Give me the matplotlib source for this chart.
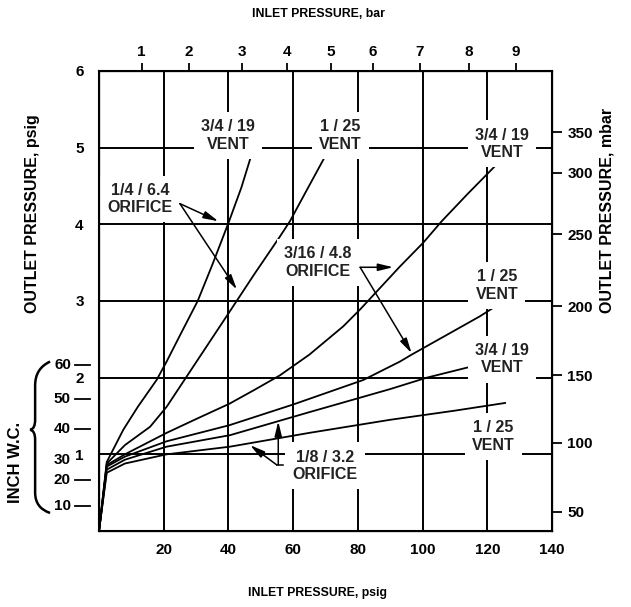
import matplotlib.pyplot as plt
from matplotlib.path import Path
from matplotlib.patches import PathPatch

plt.rcParams['font.family'] = ['Liberation Sans', 'DejaVu Sans']
plt.rcParams['font.weight'] = 'bold'

# curves: inlet psig -> outlet psig
a_x = [0, 2.4, 7.5, 12, 17.8, 20.9, 25, 30.5, 35, 40.2, 44, 47]
a_y = [0, 0.90, 1.32, 1.62, 1.97, 2.21, 2.55, 3.0, 3.47, 4.04, 4.48, 4.89]

b_x = [0, 2.4, 8, 15.8, 20.9, 30, 40.2, 48, 55.9, 59, 64, 69.8]
b_y = [0, 0.88, 1.12, 1.36, 1.62, 2.2, 2.85, 3.35, 3.84, 4.04, 4.43, 4.88]

c_x = [0, 2.4, 8, 20.9, 30, 40.3, 48, 55.9, 65, 75.5, 80.7, 93, 100.2, 105.9, 114, 122.4]
c_y = [0, 0.86, 1.0, 1.28, 1.46, 1.66, 1.84, 2.03, 2.30, 2.67, 2.89, 3.45, 3.76, 4.04, 4.40, 4.76]

d_x = [0, 2.4, 8, 20.9, 40.3, 60, 81.7, 93, 96.6, 108, 117.7, 121.8]
d_y = [0, 0.84, 0.97, 1.17, 1.38, 1.65, 1.97, 2.21, 2.30, 2.57, 2.80, 2.91]

e_x = [0, 2.4, 8, 20.9, 40.5, 65, 89.9, 101.3, 114.6]
e_y = [0, 0.80, 0.93, 1.10, 1.25, 1.55, 1.85, 2.0, 2.14]

f_x = [0, 2.4, 8, 20.9, 40.5, 65, 89.9, 110, 125.5]
f_y = [0, 0.76, 0.88, 1.0, 1.10, 1.28, 1.45, 1.57, 1.67]

# axes ticks
psig_in_ticks = [20, 40, 60, 80, 100, 120, 140]
psig_out_ticks = [1, 2, 3, 4, 5, 6]
bar_labels = ['1', '2', '3', '4', '5', '6', '7', '8', '9']
bar_pos = [13.2, 27.8, 44.1, 58.0, 71.6, 84.6, 99.2, 114.3, 128.8]
mbar_labels = ['50', '100', '150', '200', '250', '300', '350']
mbar_pos = [0.25, 1.15, 2.03, 2.93, 3.87, 4.67, 5.20]
wc_labels = ['60', '50', '40', '30', '20', '10']
wc_pos = [2.17, 1.72, 1.33, 0.93, 0.67, 0.33]
wc_dash = [True, True, True, False, True, True]

grid_x = [20, 40, 60, 80, 100, 120]
grid_y = [1, 2, 3, 4, 5]

# curve labels: text, x, y
labels = [
    ('3/4 / 19\nVENT', 39.9, 5.16),
    ('1 / 25\nVENT', 74.5, 5.16),
    ('3/4 / 19\nVENT', 124.5, 5.05),
    ('1 / 25\nVENT', 123.0, 3.20),
    ('3/4 / 19\nVENT', 124.5, 2.24),
    ('1 / 25\nVENT', 121.8, 1.23),
    ('1/4 / 6.4\nORIFICE', 12.7, 4.33),
    ('3/16 / 4.8\nORIFICE', 67.7, 3.50),
    ('1/8 / 3.2\nORIFICE', 69.8, 0.85),
]

# arrows: (start, tip)
arrows = [
    ((25.0, 4.27), (36.9, 4.04)),
    ((25.0, 4.27), (42.6, 3.15)),
    ((80.7, 3.44), (90.9, 3.44)),
    ((80.7, 3.44), (96.6, 2.32)),
    ((55.4, 0.863), (55.4, 1.43)),
    ((54.9, 0.863), (46.7, 1.12)),
]

fig = plt.figure(figsize=(6.31, 6.07), dpi=100)
ax = fig.add_axes([99/631, 76/607, 453/631, 460/607])
ax.set_xlim(0, 140)
ax.set_ylim(0, 6)

for v in grid_x:
    ax.axvline(v, color='black', lw=1.4, zorder=1)
for h in grid_y:
    ax.axhline(h, color='black', lw=1.4, zorder=1)

for xs, ys in [(a_x, a_y), (b_x, b_y), (c_x, c_y), (d_x, d_y), (e_x, e_y), (f_x, f_y)]:
    ax.plot(xs, ys, color='black', lw=1.3, zorder=2, solid_joinstyle='round')

for s, x, y in labels:
    ax.text(x, y, s, ha='center', va='center', fontsize=11.5, fontweight='bold',
            linespacing=1.2, color='#222222', zorder=5,
            bbox=dict(boxstyle='square,pad=0.45', fc='white', ec='none'))

for start, tip in arrows:
    ax.annotate('', xy=tip, xytext=start, zorder=6,
                arrowprops=dict(arrowstyle='-|>,head_length=0.9,head_width=0.22',
                                color='black', lw=1.1, shrinkA=0, shrinkB=0))
ax.plot([54.9, 56.9], [0.863, 0.863], color='black', lw=1.1, zorder=6)

for sp in ax.spines.values():
    sp.set_linewidth(1.5)

ax.set_xticks(psig_in_ticks)
ax.set_yticks(psig_out_ticks)
ax.tick_params(axis='both', length=0, labelsize=11)
ax.tick_params(axis='x', pad=9)
ax.tick_params(axis='y', pad=11)

ax_top = ax.twiny()
ax_top.set_xlim(ax.get_xlim())
ax_top.set_xticks(bar_pos, bar_labels)
ax_top.tick_params(direction='out', length=6, width=1.3, labelsize=11, pad=3)

ax_r = ax.twinx()
ax_r.set_ylim(ax.get_ylim())
ax_r.set_yticks(mbar_pos, mbar_labels)
ax_r.tick_params(direction='out', length=7, width=1.3, labelsize=11, pad=4)

# inch w.c. scale on the left, outside the frame
trans = ax.get_yaxis_transform()
for lab, pos, dash in zip(wc_labels, wc_pos, wc_dash):
    if dash:
        ax.plot([-0.053, -0.02], [pos, pos], transform=trans, clip_on=False,
                color='black', lw=1.3)
    ax.text(-0.062, pos, lab, transform=trans, ha='right', va='center', fontsize=11)

brace = Path([(-0.108, 2.21), (-0.141, 2.12), (-0.141, 1.90),
              (-0.141, 1.45),
              (-0.141, 1.33), (-0.152, 1.32),
              (-0.141, 1.31), (-0.141, 1.19),
              (-0.141, 0.50),
              (-0.141, 0.30), (-0.108, 0.235)],
             [Path.MOVETO, Path.CURVE3, Path.CURVE3,
              Path.LINETO,
              Path.CURVE3, Path.CURVE3,
              Path.CURVE3, Path.CURVE3,
              Path.LINETO,
              Path.CURVE3, Path.CURVE3])
ax.add_patch(PathPatch(brace, transform=trans, fc='none', ec='black', lw=1.8, clip_on=False))
ax.text(-0.185, 0.90, 'INCH W.C.', transform=trans, rotation=90, ha='center', va='center',
        fontsize=12)

fig.text(318/631, 1 - 14/607, 'INLET PRESSURE, bar', ha='center', va='center', fontsize=8.8)
fig.text(318/631, 1 - 593/607, 'INLET PRESSURE, psig', ha='center', va='center', fontsize=8.8)
fig.text(33/631, 1 - 214/607, 'OUTLET PRESSURE, psig', rotation=90, ha='center', va='center', fontsize=11.5)
fig.text(607/631, 1 - 210/607, 'OUTLET PRESSURE, mbar', rotation=90, ha='center', va='center', fontsize=11.5)

fig.savefig('out.png', dpi=100)
